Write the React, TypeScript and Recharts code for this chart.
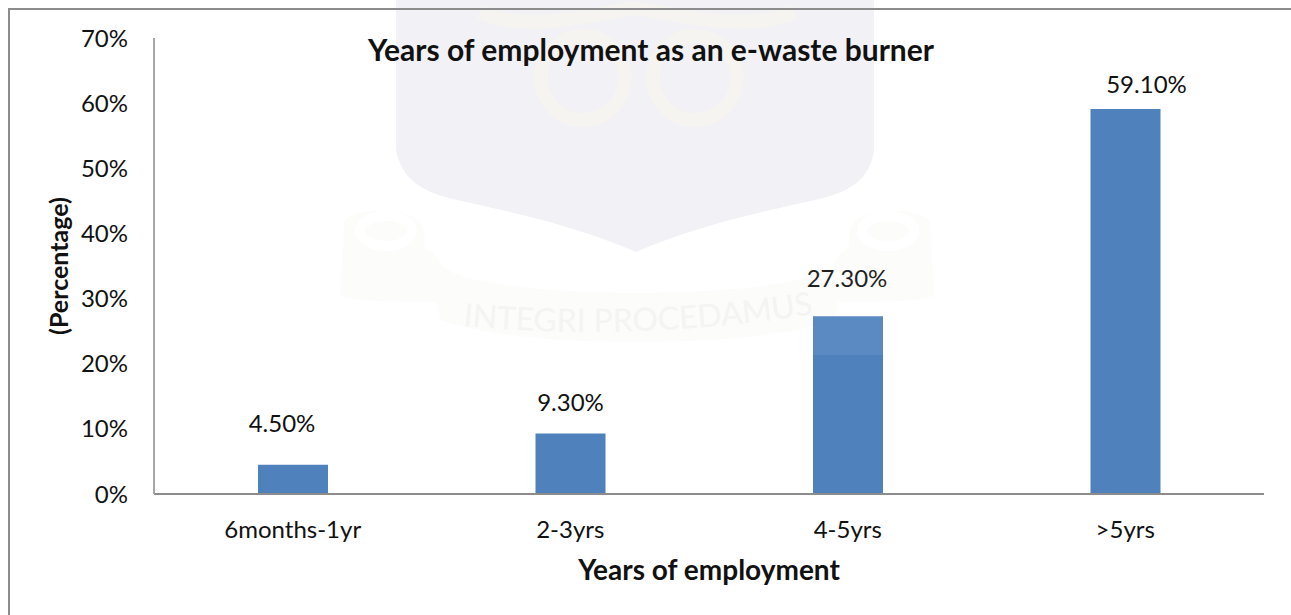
import { BarChart, Bar, XAxis, YAxis, LabelList } from "recharts";

const categories = ["6months-1yr", "2-3yrs", "4-5yrs", ">5yrs"];
const shares = [4.5, 9.3, 27.3, 59.1];
const yTicks = [0, 10, 20, 30, 40, 50, 60, 70];

const data = categories.map((name, i) => ({ name, share: shares[i] }));

const FONT = "Lato, 'Open Sans', sans-serif";
const AXIS_GREY = "#8c8c8c";
const INK = "#111";

// hand placed label offsets from the top centre of each bar, [dx, dy]
const labelNudges = [
    [-11, -33],
    [0, -22],
    [-1, -29],
    [21, -16],
];

const ribbon =
    "M344 222 C350 208 410 205 422 225 C428 240 420 248 432 252 L440 263 C450 280 520 292 637 293 C754 292 824 280 834 263 L842 252 C854 248 846 240 852 225 C864 205 924 208 930 222 L934 296 C910 302 880 302 838 302 L834 320 C780 338 700 342 637 342 C574 342 494 338 440 320 L436 302 C394 302 364 302 340 296 Z";

// faint crest sitting behind the plot
function Crest() {
    return (
        <svg
            width={1291}
            height={615}
            style={{ position: "absolute", left: 0, top: 0 }}
        >
            <path
                d="M396 0 L874 0 L874 150 C870 180 850 192 815 200 C760 212 690 228 636 252 C582 228 512 212 457 200 C422 192 402 180 396 150 Z"
                fill="#f1f1f6"
            />
            <g fill="none" stroke="#f5f4f0" strokeWidth={14}>
                <circle cx={583} cy={78} r={42} />
                <circle cx={695} cy={78} r={42} />
                <path d="M480 12 C520 30 570 20 636 8 C700 20 750 30 795 12" />
            </g>
            <path d={ribbon} fill="#fcfcfa" />
            <g fill="none" stroke="#ffffff" strokeWidth={10}>
                <ellipse cx={386} cy={231} rx={26} ry={15} />
                <ellipse cx={888} cy={231} rx={26} ry={15} />
            </g>
            <path id="motto" d="M463 326 Q637 342 815 314" fill="none" />
            <text fontFamily={FONT} fontSize={32} fill="#f4f4f1">
                <textPath href="#motto">INTEGRI PROCEDAMUS</textPath>
            </text>
        </svg>
    );
}

// value label placed off the bar top by its nudge
function ShareLabel(props: any) {
    const { x, y, width, value, index } = props;
    const [dx, dy] = labelNudges[index];
    return (
        <text
            x={x + width / 2 + dx}
            y={y + dy}
            textAnchor="middle"
            fontSize={24}
            fill={INK}
        >
            {`${value.toFixed(2)}%`}
        </text>
    );
}

export default function App() {
    return (
        <div
            style={{
                position: "absolute",
                left: 0,
                top: 0,
                width: 1291,
                height: 615,
                background: "#fff",
                overflow: "hidden",
            }}
        >
            <Crest />

            {/* Outer frame: only the top and left edges show */}
            <div
                style={{
                    position: "absolute",
                    left: 8,
                    top: 8,
                    width: 1283,
                    height: 607,
                    boxSizing: "border-box",
                    borderTop: `2px solid ${AXIS_GREY}`,
                    borderLeft: `2px solid ${AXIS_GREY}`,
                }}
            />

            <div style={{ position: "absolute", left: 0, top: 0 }}>
                <BarChart
                    width={1291}
                    height={615}
                    data={data}
                    margin={{ top: 38, right: 27, bottom: 0, left: 0 }}
                    barSize={70}
                    style={{ fontFamily: FONT }}
                >
                    <XAxis
                        dataKey="name"
                        height={121}
                        tickLine={false}
                        axisLine={{ stroke: AXIS_GREY, strokeWidth: 2 }}
                        tick={{ fill: INK, fontSize: 24 }}
                        tickMargin={21}
                    />
                    <YAxis
                        width={154}
                        domain={[0, 70]}
                        ticks={yTicks}
                        interval={0}
                        tickFormatter={(v: number) => `${v}%`}
                        tickLine={false}
                        axisLine={{ stroke: "#a6a6a6", strokeWidth: 2 }}
                        tick={{ fill: INK, fontSize: 24 }}
                        tickMargin={20}
                    />
                    <Bar
                        dataKey="share"
                        fill="#4f81bd"
                        isAnimationActive={false}
                    >
                        <LabelList dataKey="share" content={ShareLabel} />
                    </Bar>
                    <text
                        x={651}
                        y={61}
                        textAnchor="middle"
                        fontSize={30}
                        fontWeight={700}
                        fill={INK}
                    >
                        Years of employment as an e-waste burner
                    </text>
                    <text
                        x={709}
                        y={580}
                        textAnchor="middle"
                        fontSize={28}
                        fontWeight={700}
                        fill={INK}
                    >
                        Years of employment
                    </text>
                    <text
                        x={68}
                        y={266}
                        textAnchor="middle"
                        fontSize={25}
                        fontWeight={700}
                        fill={INK}
                        transform="rotate(-90 68 266)"
                    >
                        (Percentage)
                    </text>
                </BarChart>
            </div>

            {/* the crest also lightens what it crosses */}
            <svg
                width={1291}
                height={615}
                style={{ position: "absolute", left: 0, top: 0, pointerEvents: "none" }}
            >
                <rect
                    x={340}
                    y={200}
                    width={600}
                    height={155}
                    fill="#ffffff"
                    opacity={0.07}
                />
            </svg>
        </div>
    );
}
